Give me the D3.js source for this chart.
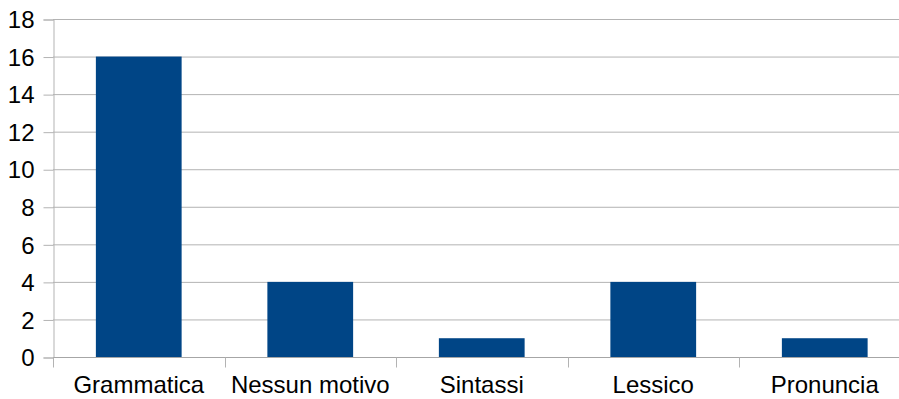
<!DOCTYPE html>
<html>
<head>
<meta charset="utf-8">
<script src="https://cdn.jsdelivr.net/npm/d3@7"></script>
<style>
  html, body { margin: 0; padding: 0; background: #fff; }
  svg { display: block; }
  text { font-family: "Liberation Sans", Arial, sans-serif; fill: #000; }
</style>
</head>
<body>
<svg id="chart" width="899" height="399"></svg>
<script>
// Reasons counted per category
const categories = ["Grammatica", "Nessun motivo", "Sintassi", "Lessico", "Pronuncia"];
const counts = [16, 4, 1, 4, 1];
const yTicks = [0, 2, 4, 6, 8, 10, 12, 14, 16, 18];

const svg = d3.select("#chart");
const plotLeft = 53, plotRight = 910.5, plotTop = 19, plotBottom = 357;

const x = d3.scaleBand().domain(categories).range([plotLeft, plotRight]).paddingInner(0).paddingOuter(0);
const y = d3.scaleLinear().domain([0, 18]).range([plotBottom, plotTop]);

const grid = "#b3b3b3";
const fontSize = 24;

// horizontal grid lines
svg.append("g").selectAll("line")
  .data(yTicks.filter(d => d > 0))
  .join("line")
  .attr("x1", plotLeft).attr("x2", plotRight)
  .attr("y1", d => y(d) + 0.5).attr("y2", d => y(d) + 0.5)
  .attr("stroke", grid).attr("stroke-width", 1);

// bars, half the band wide and centred
const barW = x.bandwidth() * 0.5;
svg.append("g").selectAll("rect")
  .data(categories.map((c, i) => ({ c, v: counts[i] })))
  .join("rect")
  .attr("x", d => x(d.c) + (x.bandwidth() - barW) / 2)
  .attr("width", barW)
  .attr("y", d => y(d.v))
  .attr("height", d => y(0) - y(d.v))
  .attr("fill", "#004586");

// y axis
const yAxis = d3.axisLeft(y).tickValues(yTicks).tickSize(10).tickPadding(9);
const gy = svg.append("g").attr("transform", `translate(${plotLeft + 0.5},0.5)`).call(yAxis);
gy.selectAll("path, line").attr("stroke", grid);
gy.selectAll("text")
  .attr("font-size", fontSize)
  .attr("font-family", "Liberation Sans, Arial, sans-serif")
  .attr("fill", "#000")
  .attr("dy", "0.34em");

// x axis: ticks sit on band boundaries
const gx = svg.append("g").attr("transform", `translate(0,${plotBottom + 0.5})`);
gx.append("line").attr("x1", plotLeft).attr("x2", plotRight).attr("stroke", "#a6a6a6");
const boundaries = categories.map(c => x(c)).concat([plotRight]);
gx.selectAll("line.tick")
  .data(boundaries)
  .join("line")
  .attr("class", "tick")
  .attr("x1", d => Math.round(d) + 0.5).attr("x2", d => Math.round(d) + 0.5)
  .attr("y1", 0).attr("y2", 10)
  .attr("stroke", grid);
gx.selectAll("text")
  .data(categories)
  .join("text")
  .attr("x", d => x(d) + x.bandwidth() / 2)
  .attr("y", 35.5)
  .attr("text-anchor", "middle")
  .attr("font-size", fontSize)
  .text(d => d);
</script>
</body>
</html>
